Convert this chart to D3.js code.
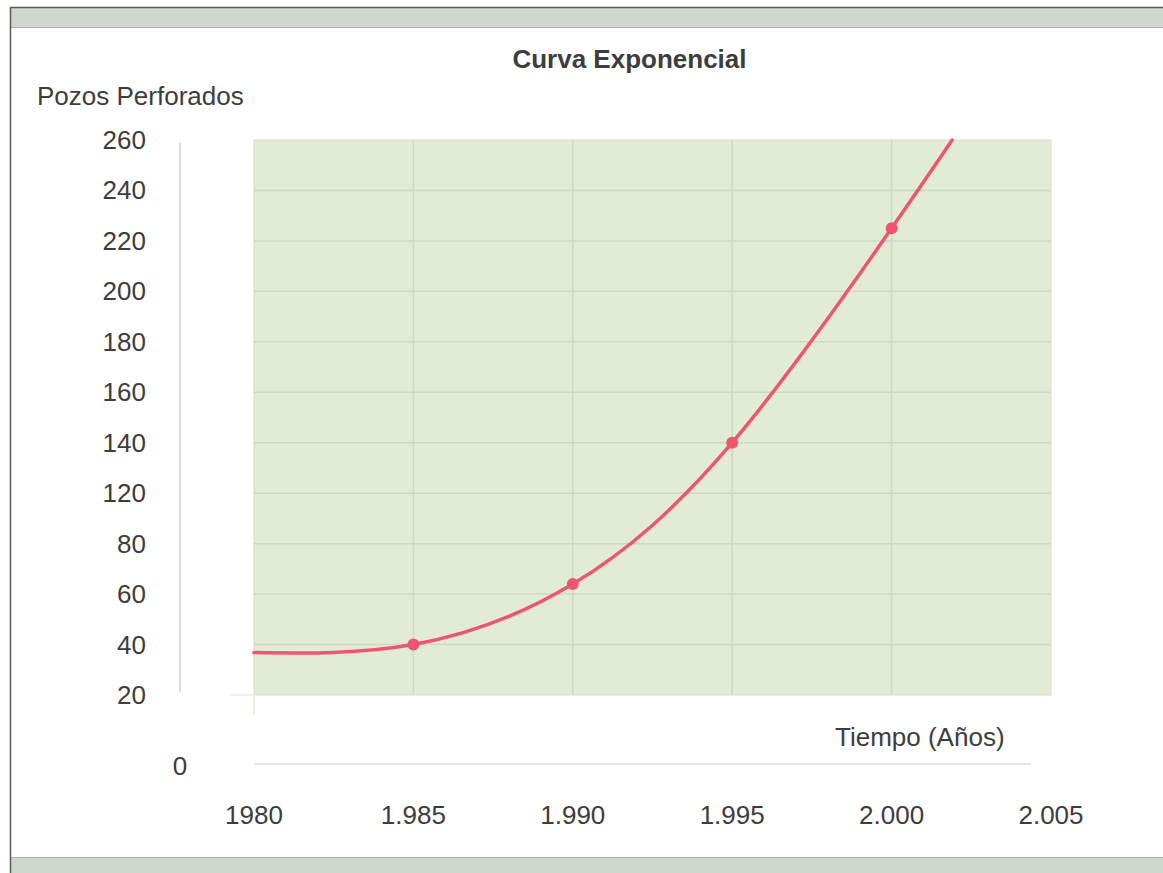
<!DOCTYPE html>
<html>
<head>
<meta charset="utf-8">
<script src="https://cdn.jsdelivr.net/npm/d3@7"></script>
<style>
  html, body { margin: 0; padding: 0; background: #fff; }
  svg { display: block; }
  text { font-family: "Liberation Sans", Arial, Helvetica, sans-serif; fill: #3d3d3d; }
</style>
</head>
<body>
<script>
// ---- data ----
const title = "Curva Exponencial";
const yTitle = "Pozos Perforados";
const xTitle = "Tiempo (Años)";
const yTickLabels = [20, 40, 60, 80, 120, 140, 160, 180, 200, 220, 240, 260];
const zeroLabel = "0";
const xTickYears = [1980, 1985, 1990, 1995, 2000, 2005];
const xTickLabels = ["1980", "1.985", "1.990", "1.995", "2.000", "2.005"];
const markerYears = [1985, 1990, 1995, 2000];
const markerValues = [40, 64, 140, 225];
const curveYears = [1980, 1985, 1990, 1995, 2000, 2001.9];
const curveValues = [36.8, 40, 64, 140, 225, 260];

// ---- layout ----
const W = 1163, H = 873;
const plot = { left: 254, right: 1051, top: 140, bottom: 695 };
const FS = 26;

const svg = d3.select("body").append("svg").attr("width", W).attr("height", H);

// frame
svg.append("rect").attr("x", 10).attr("y", 7).attr("width", W - 10).attr("height", 20).attr("fill", "#cfd7cf");
svg.append("line").attr("x1", 10).attr("x2", W).attr("y1", 27.5).attr("y2", 27.5).attr("stroke", "#a9b0a9").attr("stroke-width", 1);
svg.append("line").attr("x1", 10).attr("x2", W).attr("y1", 7.5).attr("y2", 7.5).attr("stroke", "#5a5a5a").attr("stroke-width", 1.5);
svg.append("rect").attr("x", 10).attr("y", 857).attr("width", W - 10).attr("height", H - 857).attr("fill", "#cfd7cf");
svg.append("line").attr("x1", 10).attr("x2", W).attr("y1", 857.5).attr("y2", 857.5).attr("stroke", "#a9b0a9").attr("stroke-width", 1);
svg.append("line").attr("x1", 10.5).attr("x2", 10.5).attr("y1", 7).attr("y2", H).attr("stroke", "#5a5a5a").attr("stroke-width", 1.5);

// scales
const x = d3.scaleLinear().domain([xTickYears[0], xTickYears[xTickYears.length - 1]]).range([plot.left, plot.right]);
const yPos = d3.scalePoint().domain(yTickLabels).range([plot.bottom, plot.top]);
const y = d3.scaleLinear().domain(yTickLabels).range(yTickLabels.map(v => yPos(v)));

// plot background
svg.append("rect")
  .attr("x", plot.left).attr("y", plot.top)
  .attr("width", plot.right - plot.left).attr("height", plot.bottom - plot.top)
  .attr("fill", "#e2ecd5").attr("stroke", "#d6dccf").attr("stroke-width", 1);

// gridlines
const grid = svg.append("g");
grid.selectAll("line.h").data(yTickLabels.slice(1, -1)).enter().append("line")
  .attr("x1", plot.left).attr("x2", plot.right)
  .attr("y1", d => y(d)).attr("y2", d => y(d))
  .attr("stroke", "#cfd8c4").attr("stroke-width", 1.5);
grid.selectAll("line.v").data(xTickYears.slice(1, -1)).enter().append("line")
  .attr("x1", d => x(d)).attr("x2", d => x(d))
  .attr("y1", plot.top).attr("y2", plot.bottom)
  .attr("stroke", "#cfd8c4").attr("stroke-width", 1.5);

// small corner ticks
svg.append("line").attr("x1", 230).attr("x2", plot.left).attr("y1", plot.bottom).attr("y2", plot.bottom)
  .attr("stroke", "#e6eedd").attr("stroke-width", 1.5);
svg.append("line").attr("x1", plot.left).attr("x2", plot.left).attr("y1", plot.bottom).attr("y2", 715)
  .attr("stroke", "#e6eedd").attr("stroke-width", 1.5);

// y axis line
svg.append("line").attr("x1", 180).attr("x2", 180).attr("y1", 143).attr("y2", 692)
  .attr("stroke", "#dcdcdc").attr("stroke-width", 2);

// zero line
svg.append("line").attr("x1", plot.left).attr("x2", 1031).attr("y1", 764).attr("y2", 764)
  .attr("stroke", "#dcdcdc").attr("stroke-width", 1.5);

// y tick labels
svg.append("g").selectAll("text").data(yTickLabels).enter().append("text")
  .attr("x", 146).attr("y", d => y(d) + 9)
  .attr("text-anchor", "end").attr("font-size", FS)
  .text(d => d);
svg.append("text").attr("x", 180).attr("y", 775).attr("text-anchor", "middle").attr("font-size", FS).text(zeroLabel);

// x tick labels
svg.append("g").selectAll("text").data(xTickYears).enter().append("text")
  .attr("x", d => x(d)).attr("y", 824)
  .attr("text-anchor", "middle").attr("font-size", FS)
  .text((d, i) => xTickLabels[i]);

// titles
svg.append("text").attr("x", 629.5).attr("y", 68).attr("text-anchor", "middle")
  .attr("font-size", FS).attr("font-weight", "bold").text(title);
svg.append("text").attr("x", 37).attr("y", 105).attr("font-size", FS).text(yTitle);
svg.append("text").attr("x", 835).attr("y", 746).attr("font-size", FS).text(xTitle);

// curve
const curveData = curveYears.map((yr, i) => ({ yr, v: curveValues[i] }));
const line = d3.line().x(d => x(d.yr)).y(d => y(d.v)).curve(d3.curveNatural);
svg.append("path").datum(curveData)
  .attr("d", line).attr("fill", "none")
  .attr("stroke", "#ef5570").attr("stroke-width", 3.5).attr("stroke-linecap", "round");

// markers
svg.append("g").selectAll("circle").data(markerYears).enter().append("circle")
  .attr("cx", d => x(d)).attr("cy", (d, i) => y(markerValues[i]))
  .attr("r", 6).attr("fill", "#ef5570");
</script>
</body>
</html>
